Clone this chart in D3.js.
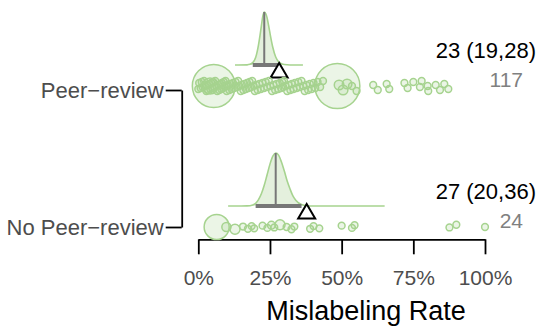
<!DOCTYPE html>
<html>
<head>
<meta charset="utf-8">
<script src="https://cdn.jsdelivr.net/npm/d3@7"></script>
<style>
  html, body { margin: 0; background: #fff; }
  svg { display: block; font-family: "Liberation Sans", Arial, Helvetica, sans-serif; }
</style>
</head>
<body>
<svg id="chart" width="537" height="326"></svg>
<script>
// ---- data -------------------------------------------------------------
const categories = ["Peer\u2212review", "No Peer\u2212review"];
const estimates = [23, 27];          // pooled mislabeling rate (%)
const ciLow = [19, 20];
const ciHigh = [28, 36];
const rawMeans = [28.2, 37.8];       // unweighted mean of the studies (%)
const studyCounts = [117, 24];
const xTicks = [0, 25, 50, 75, 100];

// per-study mislabeling rates (%) and their relative sample sizes
const peerRates = [
  5.4, 48.5, 4.1, 49.1, 50.5, 51.9,
  0, 0.3, 0.8, 1.2, 1.5, 2, 2.3, 2.8, 3, 3.4, 3.8, 4.2, 4.5, 4.9, 5.2,
  5.6, 5.9, 6.3, 6.6, 7, 7.3, 7.7, 8, 8.2, 8.6, 8.9, 9.2, 9.5, 9.7, 9.9,
  10.3, 10.8, 11.2, 11.6, 12.1, 12.5, 13, 13.4, 13.9, 14.3, 14.8, 15.2,
  15.7, 16.1, 16.6, 17, 17.5, 17.9, 18.4, 18.8, 19.3, 19.7,
  20.2, 20.7, 21.3, 21.8, 22.4, 22.9, 23.5, 24, 24.6, 25.1, 25.7, 26.2,
  26.8, 27.3, 27.9, 28.4, 28.9, 29.3, 29.6, 29.9,
  30.4, 31, 31.5, 32.1, 32.6, 33.2, 33.7, 34.3, 34.9, 35.4, 36, 36.6,
  37.1, 37.7, 38.3, 38.9, 39.5, 40.2, 40.8, 41.6, 42.5, 43.5,
  53.6, 55.2, 61.0, 62.6, 65.7, 66.6, 71.9, 73.0, 75.0, 77.3, 77.9,
  80.0, 80.2, 82.8, 84.3, 85.8, 87.2
];
const peerWeights = [
  40, 44, 5.5, 2, 2, 2,
  1, 1, 1, 1, 1, 1, 1, 1, 1, 1, 1, 1, 1, 1, 1, 1, 1, 1, 1, 1,
  1, 1, 1, 1, 1, 1, 1, 1, 1, 1, 1, 1, 1, 1, 1, 1, 1, 1, 1, 1,
  1, 1, 1, 1, 1, 1, 1, 1, 1, 1, 1, 1, 1, 1, 1, 1, 1, 1, 1, 1,
  1, 1, 1, 1, 1, 1, 1, 1, 1, 1, 1, 1, 1, 1, 1, 1, 1, 1, 1, 1,
  1, 1, 1, 1, 1, 1, 1, 1, 1, 1, 1, 1, 1, 1, 1, 1, 1, 1, 1, 1,
  1, 1, 1, 1, 1, 1, 1, 1, 1, 1, 1
];
const noPeerRates = [
  6.4, 9.8, 12.8, 15.6, 17.3, 18.6, 19.5, 22.4, 24.1, 25.5, 26.5, 28.5,
  30.8, 32.5, 33.5, 39, 40.2, 42.2, 50, 53.6, 54.5, 87.6, 90, 100
];
const noPeerWeights = [
  13.6, 1.8, 2.2, 1, 1, 1, 1, 1, 1, 1.3, 1, 2.2,
  1, 1, 1, 1, 1, 1, 1, 1, 1, 1, 1, 1
];

// posterior density of the pooled rate (relative height)
const peerDensX = [12.8, 17, 18, 19, 20, 21, 21.5, 22, 22.5, 23, 23.5, 24, 24.5, 25, 26, 27, 28, 29, 30, 32, 36.5];
const peerDensY = [0, 0.003, 0.012, 0.045, 0.14, 0.38, 0.55, 0.74, 0.92, 1.0, 0.97, 0.89, 0.75, 0.6, 0.33, 0.15, 0.06, 0.024, 0.008, 0.001, 0];
const noPeerDensX = [10.4, 15, 17, 19, 20, 21, 22, 23, 24, 25, 26, 27, 28, 29, 30, 31, 32, 33, 34, 36, 38, 40, 44, 50, 65];
const noPeerDensY = [0, 0.0003, 0.002, 0.02, 0.05, 0.12, 0.23, 0.39, 0.59, 0.79, 0.94, 1, 0.96, 0.83, 0.66, 0.47, 0.32, 0.19, 0.11, 0.027, 0.005, 0.001, 0, 0, 0];

// ---- layout -----------------------------------------------------------
const green = "#a6d38f";
const greenFill = "#e4f0dd";
const grey = "#777777";

const rows = [
  { rates: peerRates, weights: peerWeights, dx: peerDensX, dy: peerDensY, nudge: -4, spread: 1.0 },
  { rates: noPeerRates, weights: noPeerWeights, dx: noPeerDensX, dy: noPeerDensY, nudge: 0, spread: 0.45 }
];

const svg = d3.select("#chart");

const x = d3.scaleLinear().domain([0, 100]).range([198.3, 485]);
const y = d3.scalePoint().domain(categories).range([90, 227]);
const r = d3.scaleSqrt().domain([0, 44]).range([0, 22.5]);
const h = d3.scaleLinear().domain([0, 1]).range([0, 53]);

// bottom axis
const xAxis = svg.append("g")
  .attr("transform", "translate(0,239.3)")
  .call(d3.axisBottom(x).tickValues(xTicks).tickFormat(d => d + "%")
    .tickSize(15).tickSizeOuter(0).tickPadding(16));
xAxis.selectAll("path, line").attr("stroke", "#000").attr("stroke-width", 1.8);
xAxis.selectAll("text").attr("font-size", 21).attr("fill", "#4d4d4d")
  .attr("font-family", "Liberation Sans, Arial, sans-serif");

// left bracket axis
const yAxis = svg.append("g")
  .attr("transform", "translate(181.7,0)")
  .call(d3.axisLeft(y).tickSize(16).tickSizeOuter(0).tickPadding(2));
yAxis.selectAll("path, line").attr("stroke", "#000").attr("stroke-width", 1.8);
yAxis.selectAll("text").attr("font-size", 22).attr("fill", "#4d4d4d")
  .attr("font-family", "Liberation Sans, Arial, sans-serif");

// axis title
svg.append("text")
  .attr("x", 366).attr("y", 320)
  .attr("text-anchor", "middle")
  .attr("font-size", 27).attr("fill", "#000")
  .text("Mislabeling Rate");

function densAt(xs, ys, v) {
  const i = d3.bisectLeft(xs, v);
  if (i <= 0) return ys[0];
  if (i >= xs.length) return ys[ys.length - 1];
  const t = (v - xs[i - 1]) / (xs[i] - xs[i - 1]);
  return ys[i - 1] + t * (ys[i] - ys[i - 1]);
}

// fixed vertical jitter so overlapping studies stay visible
const jitter = k => ((k * 5) % 11) - 5;

rows.forEach((row, i) => {
  const cy = y(categories[i]) + row.nudge;
  const base = cy - 21;
  const g = svg.append("g");

  const pts = row.dx.map((v, k) => [v, row.dy[k]]);
  const area = d3.area()
    .x(d => x(d[0])).y0(base).y1(d => base - h(d[1]))
    .curve(d3.curveMonotoneX);
  const line = d3.line()
    .x(d => x(d[0])).y(d => base - h(d[1]))
    .curve(d3.curveMonotoneX);

  g.append("path").attr("d", area(pts)).attr("fill", greenFill).attr("stroke", "none");
  g.append("path").attr("d", line(pts)).attr("fill", "none")
    .attr("stroke", green).attr("stroke-width", 1.6);

  // estimate line up to the curve
  g.append("line")
    .attr("x1", x(estimates[i])).attr("x2", x(estimates[i]))
    .attr("y1", base).attr("y2", base - h(densAt(row.dx, row.dy, estimates[i])))
    .attr("stroke", grey).attr("stroke-width", 2);

  // credible interval
  g.append("line")
    .attr("x1", x(ciLow[i])).attr("x2", x(ciHigh[i]))
    .attr("y1", base).attr("y2", base)
    .attr("stroke", grey).attr("stroke-width", 4);

  // raw mean marker
  const mx = x(rawMeans[i]);
  g.append("path")
    .attr("d", `M${mx},${cy - 23}L${mx + 8.5},${cy - 8.5}L${mx - 8.5},${cy - 8.5}Z`)
    .attr("fill", "#fff").attr("stroke", "#000").attr("stroke-width", 2)
    .attr("stroke-linejoin", "miter");

  // studies
  const studies = row.rates.map((v, k) => ({ v, w: row.weights[k], k }))
    .sort((a, b) => b.w - a.w);
  g.selectAll("circle.study").data(studies).join("circle")
    .attr("class", "study")
    .attr("cx", d => x(d.v))
    .attr("cy", d => cy + (d.w > 3 ? 0 : jitter(d.k) * row.spread))
    .attr("r", d => r(d.w))
    .attr("fill", green).attr("fill-opacity", 0.22)
    .attr("stroke", green).attr("stroke-width", 1.5);

  // summary labels
  svg.append("text")
    .attr("x", 536).attr("y", cy - 28.5)
    .attr("text-anchor", "end").attr("font-size", 22).attr("fill", "#000")
    .text(`${estimates[i]} (${ciLow[i]},${ciHigh[i]})`);
  svg.append("text")
    .attr("x", 523).attr("y", cy + 0.5)
    .attr("text-anchor", "end").attr("font-size", 21).attr("fill", "#808080")
    .text(studyCounts[i]);
});
</script>
</body>
</html>
